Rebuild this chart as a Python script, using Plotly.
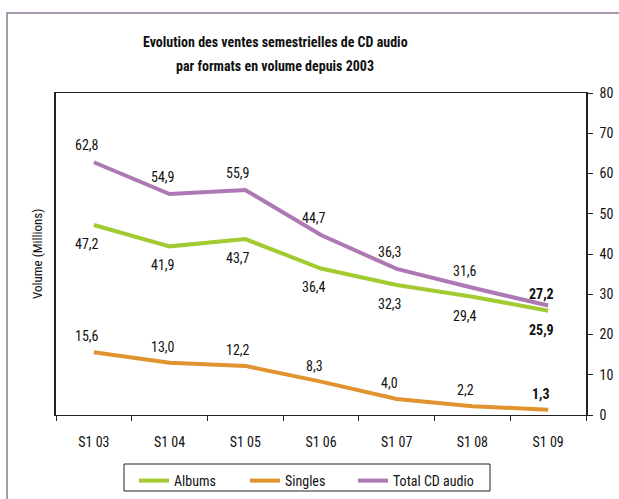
import plotly.graph_objects as go

categories = ["S1 03", "S1 04", "S1 05", "S1 06", "S1 07", "S1 08", "S1 09"]
albums = [47.2, 41.9, 43.7, 36.4, 32.3, 29.4, 25.9]
singles = [15.6, 13.0, 12.2, 8.3, 4.0, 2.2, 1.3]
total = [62.8, 54.9, 55.9, 44.7, 36.3, 31.6, 27.2]
y_ticks = [0, 10, 20, 30, 40, 50, 60, 70, 80]
title_lines = ["Evolution des ventes semestrielles de CD audio", "par formats en volume depuis 2003"]

FONT = "Roboto Condensed, DejaVu Sans Condensed, sans-serif"
C_ALB = "#a2cb32"
C_SIN = "#e0932e"
C_TOT = "#ad78b3"

# plot area in pixels: x 56..586, y 93..415
PL, PR, PT, PB = 56, 586, 93, 415
W, H = 619, 499
def px(x):
    return (x - PL) / (PR - PL)
def py(y):
    return (PB - y) / (PB - PT)

series_list = [("Albums", albums, C_ALB, "legend", 141),
               ("Singles", singles, C_SIN, "legend2", 252),
               ("Total CD audio", total, C_TOT, "legend3", 360)]

fig = go.Figure()
legends = {}
for name, vals, col, leg, lx in series_list:
    fig.add_trace(go.Scatter(x=categories, y=vals, name=name, mode="lines", legend=leg,
                             line=dict(color=col, width=4), hoverinfo="x+y"))
    legends[leg] = dict(x=px(lx - 7), xanchor="left", y=py(465), yanchor="top",
                        borderwidth=0, bgcolor="rgba(0,0,0,0)",
                        font=dict(family=FONT, size=14, color="#111111"))

def fmt(v):
    return f"{v:.1f}".replace(".", ",")

anns = []
n = len(categories)
for series, yshift in [(total, 17), (albums, -19), (singles, 16)]:
    for i, (c, v) in enumerate(zip(categories, series)):
        last = i == n - 1
        txt = f"<b>{fmt(v)}</b>" if last else fmt(v)
        ys = yshift
        if last and series is total:
            ys = 12
        anns.append(dict(x=c, y=v, xref="x", yref="y", text=txt, showarrow=False,
                         xshift=-7, yshift=ys, font=dict(family=FONT, size=14, color="#111111")))

anns.append(dict(x=px(37), y=0.5, xref="paper", yref="paper", text="Volume (Millions)",
                 textangle=-90, showarrow=False, xanchor="center", yanchor="middle",
                 font=dict(family=FONT, size=13, color="#111111")))
for line, yc in zip(title_lines, [42, 66]):
    anns.append(dict(x=px(275), y=py(yc), xref="paper", yref="paper", text=f"<b>{line}</b>",
                     showarrow=False, xanchor="center", yanchor="middle",
                     font=dict(family=FONT, size=14, color="#111111")))

fig.update_layout(
    width=W, height=H,
    margin=dict(l=PL, r=W - PR, t=PT, b=H - PB, autoexpand=False),
    paper_bgcolor="white", plot_bgcolor="white",
    font=dict(family=FONT, size=14, color="#111111"),
    showlegend=True,
    annotations=anns,
    shapes=[
        dict(type="rect", xref="paper", yref="paper",
             x0=px(7), x1=px(640), y0=py(520), y1=py(13),
             line=dict(color="#8a7796", width=1.5), fillcolor="rgba(0,0,0,0)", layer="below"),
        dict(type="rect", xref="paper", yref="paper",
             x0=px(124), x1=px(490), y0=py(491), y1=py(464),
             line=dict(color="#222222", width=1), fillcolor="rgba(0,0,0,0)", layer="below"),
    ],
    **legends,
)

fig.update_xaxes(type="category", range=[-0.5, n - 0.5], showline=True, linecolor="#222222", linewidth=1,
                 mirror=True, ticks="outside", ticklen=5, tickcolor="#222222", tickson="boundaries",
                 showgrid=False, zeroline=False, ticklabelstandoff=14, automargin=False,
                 tickfont=dict(family=FONT, size=14, color="#111111"))
fig.update_yaxes(side="right", range=[0, 80], tickvals=y_ticks, showline=True, linecolor="#222222",
                 linewidth=1.5, mirror=True, ticks="outside", ticklen=5, tickcolor="#222222",
                 showgrid=False, zeroline=False, ticklabelstandoff=4, automargin=False,
                 tickfont=dict(family=FONT, size=14, color="#111111"))

fig.write_html("out.html", config={"displayModeBar": False},
               post_script="document.body.style.margin='0';")
